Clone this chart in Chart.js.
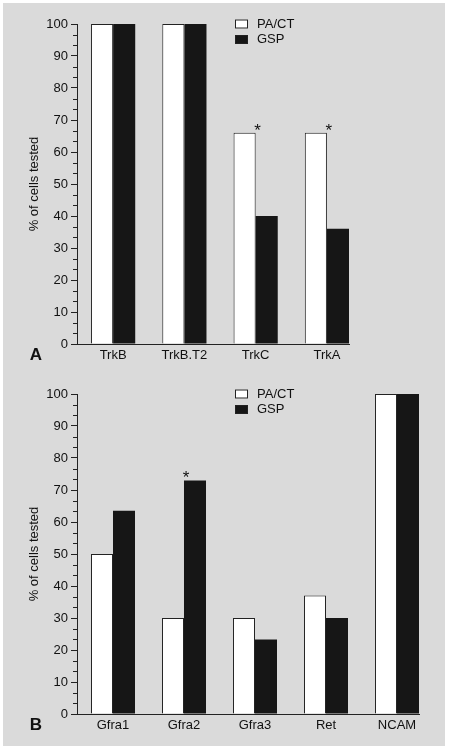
<!DOCTYPE html>
<html>
<head>
<meta charset="utf-8">
<script src="https://cdn.jsdelivr.net/npm/chart.js@4"></script>
<style>
  body { margin: 0; background: #fff; }
  #fond { position: absolute; left: 3px; top: 3px; width: 442px; height: 743px; background: #dadada; }
  canvas { position: absolute; left: 0; }
  #chartA { top: 0; }
  #chartB { top: 370px; }
</style>
</head>
<body>
<div id="fond"></div>
<canvas id="chartA" width="450" height="370"></canvas>
<canvas id="chartB" width="450" height="370"></canvas>
<script>
const seriesNames = ["PA/CT", "GSP"];
const yTitle = "% of cells tested";
const yTicks = [0, 10, 20, 30, 40, 50, 60, 70, 80, 90, 100];

const categoriesA = ["TrkB", "TrkB.T2", "TrkC", "TrkA"];
const pactA = [100, 100, 66, 66];
const gspA = [100, 100, 40, 36];
const starsA = ["", "", "*", "*"];

const categoriesB = ["Gfra1", "Gfra2", "Gfra3", "Ret", "NCAM"];
const pactB = [50, 30, 30, 37, 100];
const gspB = [63.5, 73, 23.3, 30, 100];
const starsB = ["", "*", "", "", ""];

const police = "'Liberation Sans', Arial, sans-serif";
const noir = "#161616";
const trait = "#222";

// légende, astérisques, petites graduations et lettre du panneau
const decorPlugin = {
  id: "decor",
  afterDraw(chart, args, opts) {
    const ctx = chart.ctx;
    const xs = chart.scales.x;
    const ys = chart.scales.y;
    ctx.save();

    // petites graduations (3 par dizaine)
    ctx.strokeStyle = trait;
    ctx.lineWidth = 1;
    for (let k = 0; k < yTicks.length - 1; k++) {
      const pas = (yTicks[k + 1] - yTicks[k]) / 3;
      for (let j = 1; j < 3; j++) {
        const py = Math.round(ys.getPixelForValue(yTicks[k] + j * pas)) + 0.5;
        ctx.beginPath();
        ctx.moveTo(xs.left - 4, py);
        ctx.lineTo(xs.left, py);
        ctx.stroke();
      }
    }

    // légende
    ctx.font = "13px " + police;
    ctx.textBaseline = "middle";
    ctx.textAlign = "left";
    chart.data.datasets.forEach((ds, i) => {
      const y = 24 + i * 15.5;
      ctx.fillStyle = ds.backgroundColor;
      ctx.fillRect(235, y - 4.5, 13, 9);
      ctx.strokeStyle = trait;
      ctx.strokeRect(235.5, y - 4, 12, 8);
      ctx.fillStyle = "#111";
      ctx.fillText(ds.label, 257, y);
    });

    // astérisques
    ctx.font = "17px " + police;
    ctx.textAlign = "center";
    ctx.textBaseline = "alphabetic";
    opts.stars.forEach((s, i) => {
      if (!s) return;
      const haut = Math.max(...chart.data.datasets.map((ds) => ds.data[i].y));
      ctx.fillText(s, xs.getPixelForValue(i) + 2, ys.getPixelForValue(haut) + 3);
    });

    // lettre
    ctx.font = "bold 17px " + police;
    ctx.textBaseline = "middle";
    ctx.fillText(opts.letter, 36, 355);
    ctx.restore();
  },
};

function creerGraphique(id, categories, pact, gsp, stars, letter, droite) {
  const ctx = document.getElementById(id).getContext("2d");
  return new Chart(ctx, {
    type: "bar",
    data: {
      datasets: [
        {
          label: seriesNames[0],
          data: pact.map((v, i) => ({ x: i, y: v })),
          backgroundColor: "#ffffff",
          borderColor: trait,
          borderWidth: 1,
        },
        {
          label: seriesNames[1],
          data: gsp.map((v, i) => ({ x: i, y: v })),
          backgroundColor: noir,
          borderColor: noir,
          borderWidth: 0,
        },
      ],
    },
    options: {
      responsive: false,
      animation: false,
      categoryPercentage: 0.62,
      barPercentage: 1,
      layout: { padding: { top: 24, right: droite, bottom: 0, left: 0 } },
      plugins: {
        legend: { display: false },
        tooltip: { enabled: false },
        decor: { stars: stars, letter: letter },
      },
      scales: {
        x: {
          type: "linear",
          offset: false,
          min: -0.507,
          max: categories.length - 1 + 0.31,
          grid: { display: false, drawTicks: false },
          border: { display: true, color: trait, width: 1 },
          afterBuildTicks: (scale) => {
            scale.ticks = categories.map((c, i) => ({ value: i }));
          },
          afterFit: (scale) => {
            scale.height = 26;
          },
          ticks: {
            autoSkip: false,
            maxRotation: 0,
            padding: 4,
            color: "#111",
            font: { family: police, size: 13 },
            callback: (value, index) => categories[index],
          },
        },
        y: {
          min: 0,
          max: 100,
          afterBuildTicks: (scale) => {
            scale.ticks = yTicks.map((v) => ({ value: v }));
          },
          afterFit: (scale) => {
            scale.width = 77;
          },
          grid: {
            display: true,
            drawOnChartArea: false,
            drawTicks: true,
            tickLength: 6,
            tickColor: trait,
          },
          border: { display: true, color: trait, width: 1 },
          ticks: {
            padding: 3,
            color: "#111",
            font: { family: police, size: 13 },
          },
          title: {
            display: true,
            text: yTitle,
            color: "#111",
            font: { family: police, size: 13 },
            padding: { top: 27, bottom: 0 },
          },
        },
      },
    },
    plugins: [decorPlugin],
  });
}

creerGraphique("chartA", categoriesA, pactA, gspA, starsA, "A", 101);
creerGraphique("chartB", categoriesB, pactB, gspB, starsB, "B", 31);
</script>
</body>
</html>
